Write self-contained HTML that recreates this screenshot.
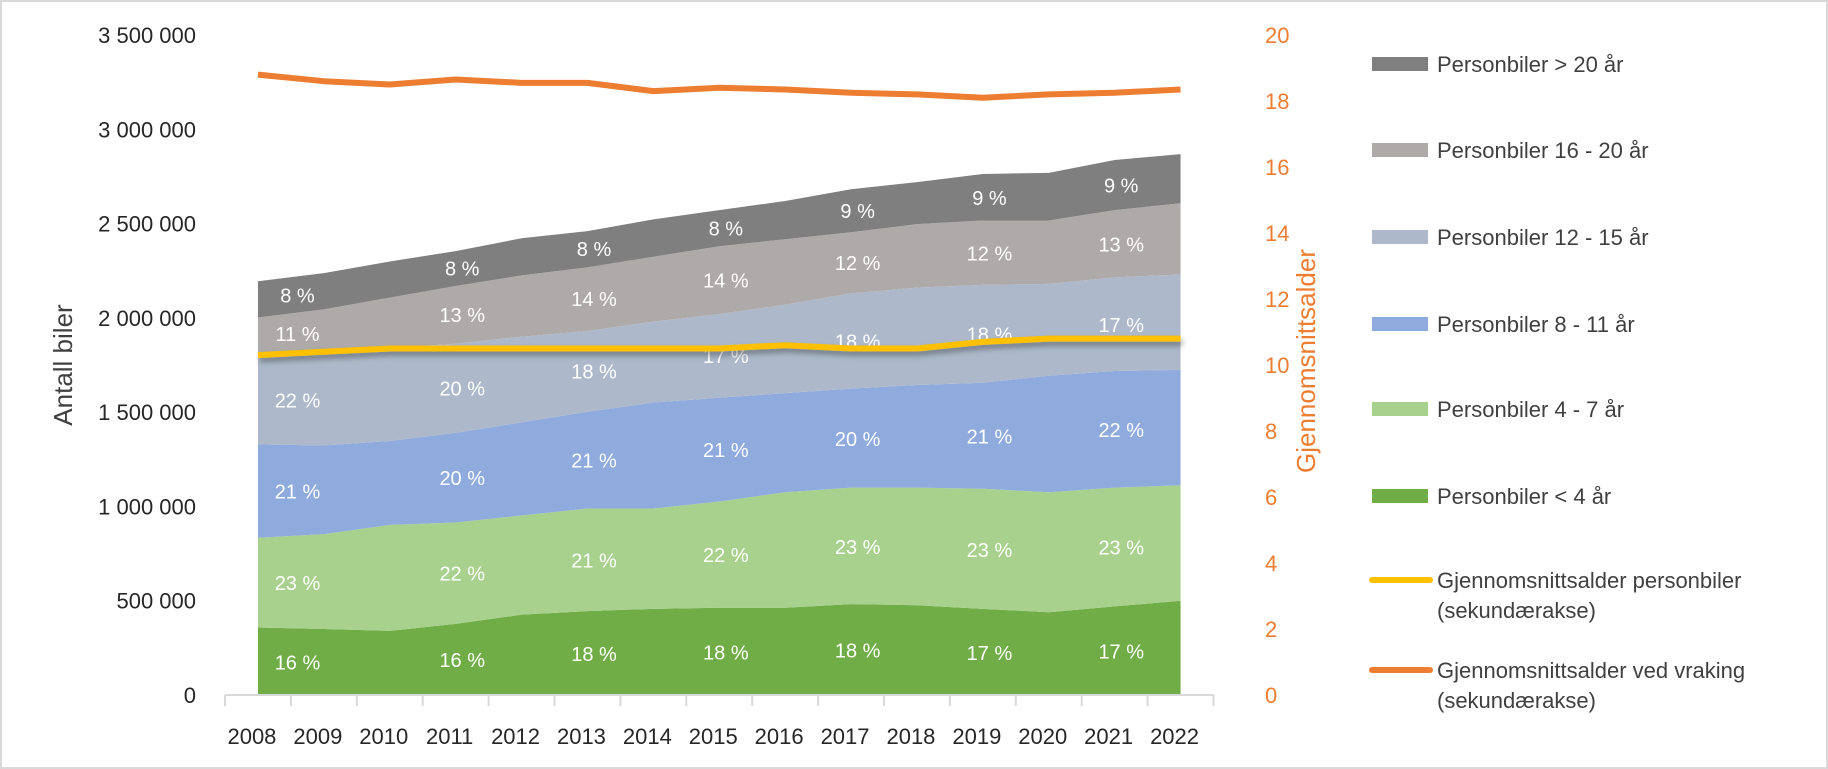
<!DOCTYPE html>
<html><head><meta charset="utf-8"><style>
html,body{margin:0;padding:0;background:#fff}
svg{display:block;font-family:"Liberation Sans",sans-serif}
</style></head><body>
<svg id="c" width="1828" height="769" viewBox="0 0 1828 769">
<defs><filter id="sh" x="-5%" y="-50%" width="110%" height="300%"><feDropShadow dx="2" dy="4" stdDeviation="3" flood-color="#000" flood-opacity="0.35"/></filter></defs>
<rect x="1" y="1" width="1826" height="767" fill="#fff" stroke="#d9d9d9" stroke-width="2"/>
<g id="areas"></g>
<g id="lbls"></g>
<g id="lines"></g>
<g id="axes"></g>
<g id="legend"></g>
</svg>
<script>
const years=[2008,2009,2010,2011,2012,2013,2014,2015,2016,2017,2018,2019,2020,2021,2022];
const under4=[358000,350000,340000,377000,426000,445000,457000,463000,463000,482000,476000,457000,439000,470000,500000];
const age4to7=[476000,503000,562000,538000,526000,544000,532000,563000,612000,618000,624000,637000,636000,630000,612000];
const age8to11=[495000,470000,445000,475000,494000,513000,562000,550000,526000,525000,544000,562000,618000,618000,612000];
const age12to15=[471000,492000,493000,473000,454000,428000,429000,444000,469000,505000,516000,519000,487000,497000,506000];
const age16to20=[202000,230000,267000,306000,325000,338000,344000,360000,347000,324000,337000,341000,336000,356000,378000];
const over20=[192000,192000,192000,185000,197000,192000,198000,191000,203000,228000,223000,247000,253000,266000,260000];
const avgAge=[10.3,10.4,10.5,10.5,10.5,10.5,10.5,10.5,10.6,10.5,10.5,10.7,10.8,10.8,10.8];
const scrapAge=[18.8,18.6,18.5,18.65,18.55,18.55,18.3,18.4,18.35,18.25,18.2,18.1,18.2,18.25,18.35];
const labelPos=[0.6,3.1,5.1,7.1,9.1,11.1,13.1];
const pctUnder4=[16,16,18,18,18,17,17];
const pct4to7=[23,22,21,22,23,23,23];
const pct8to11=[21,20,21,21,20,21,22];
const pct12to15=[22,20,18,17,18,18,17];
const pct16to20=[11,13,14,14,12,12,13];
const pctOver20=[8,8,8,8,9,9,9];
const leftTicks=[0,500000,1000000,1500000,2000000,2500000,3000000,3500000];
const rightTicks=[0,2,4,6,8,10,12,14,16,18,20];

const NS="http://www.w3.org/2000/svg";
const X0=225,STEP=65.9,Y0=695,YT=35;
const x=i=>X0+STEP/2+i*STEP;
const yL=v=>Y0-(v/3500000)*(Y0-YT);
const yR=v=>Y0-(v/20)*(Y0-YT);
function mk(t,a,p){const e=document.createElementNS(NS,t);for(const k in a)e.setAttribute(k,a[k]);p.appendChild(e);return e;}
const fmt=v=>String(v).replace(/\B(?=(\d{3})+(?!\d))/g,' ');

const layers=[
 {d:under4,c:'#70AD47',p:pctUnder4,n:'Personbiler < 4 år',k:'under-4'},
 {d:age4to7,c:'#A9D18E',p:pct4to7,n:'Personbiler 4 - 7 år',k:'4-to-7'},
 {d:age8to11,c:'#8FAADC',p:pct8to11,n:'Personbiler 8 - 11 år',k:'8-to-11'},
 {d:age12to15,c:'#ADB9CA',p:pct12to15,n:'Personbiler 12 - 15 år',k:'12-to-15'},
 {d:age16to20,c:'#AEAAAA',p:pct16to20,n:'Personbiler 16 - 20 år',k:'16-to-20'},
 {d:over20,c:'#7F7F7F',p:pctOver20,n:'Personbiler > 20 år',k:'over-20'}];
const areas=document.getElementById('areas'),lbls=document.getElementById('lbls');
let base=years.map(()=>0);
const interp=(arr,t)=>{const i=Math.min(Math.floor(t),arr.length-2),f=t-i;return arr[i]*(1-f)+arr[i+1]*f;};
layers.forEach(L=>{
 const top=base.map((b,i)=>b+L.d[i]);
 let pts=top.map((v,i)=>x(i)+','+yL(v));
 pts=pts.concat(base.map((v,i)=>x(i)+','+yL(v)).reverse());
 const pg=mk('polygon',{points:pts.join(' '),fill:L.c},areas);
 
 
 const b0=base.slice();
 labelPos.forEach((t,j)=>{
  const mid=(interp(b0,t)+interp(top,t))/2;
  const tx=mk('text',{x:X0+STEP/2+t*STEP,y:yL(mid)+8,'text-anchor':'middle','font-size':20,fill:'#fff'},lbls);
  tx.textContent=L.p[j]+' %';
  
  
 });
 base=top;
});
const lines=document.getElementById('lines');
const ly=mk('polyline',{points:avgAge.map((v,i)=>x(i)+','+yR(v)).join(' '),fill:'none',stroke:'#FFC000','stroke-width':6,'stroke-linejoin':'round',filter:'url(#sh)'},lines);


const lo=mk('polyline',{points:scrapAge.map((v,i)=>x(i)+','+yR(v)).join(' '),fill:'none',stroke:'#ED7D31','stroke-width':6,'stroke-linejoin':'round'},lines);



const ax=document.getElementById('axes');
mk('line',{x1:X0,y1:Y0,x2:X0+STEP*15,y2:Y0,stroke:'#d9d9d9','stroke-width':2},ax);
for(let k=0;k<=15;k++)mk('line',{x1:X0+k*STEP,y1:Y0,x2:X0+k*STEP,y2:Y0+11,stroke:'#d9d9d9','stroke-width':2},ax);
years.forEach((yv,i)=>{const t=mk('text',{x:x(i)-6,y:744,'text-anchor':'middle','font-size':22,fill:'#262626'},ax);t.textContent=yv;
 });
leftTicks.forEach(v=>{const t=mk('text',{x:196,y:yL(v)+8,'text-anchor':'end','font-size':22,fill:'#262626'},ax);t.textContent=fmt(v);
 });
rightTicks.forEach(v=>{const t=mk('text',{x:1265,y:yR(v)+8,'font-size':22,fill:'#ED7D31'},ax);t.textContent=v;
 });
const yt=mk('text',{x:0,y:0,transform:'translate(72,365) rotate(-90)','text-anchor':'middle','font-size':26,fill:'#404040'},ax);yt.textContent='Antall biler';

const yt2=mk('text',{x:0,y:0,transform:'translate(1315,361) rotate(-90)','text-anchor':'middle','font-size':26,fill:'#ED7D31'},ax);yt2.textContent='Gjennomsnittsalder';


const lg=document.getElementById('legend');
const lyPos=[64,150,237,324,409,496];
layers.slice().reverse().forEach((L,i)=>{
 const g=mk('g',{},lg);
 
 
 mk('rect',{x:1372,y:lyPos[i]-7,width:56,height:14,fill:L.c},g);
 const t=mk('text',{x:1437,y:lyPos[i]+8,'font-size':22,fill:'#404040'},g);t.textContent=L.n;
});
[[580,'#FFC000','Gjennomsnittsalder personbiler','avg-age'],[670,'#ED7D31','Gjennomsnittsalder ved vraking','scrap-age']].forEach(e=>{
 const g=mk('g',{},lg);
 
 
 mk('line',{x1:1372,y1:e[0],x2:1430,y2:e[0],stroke:e[1],'stroke-width':6,'stroke-linecap':'round'},g);
 const t=mk('text',{x:1437,y:e[0]+8,'font-size':22,fill:'#404040'},g);t.textContent=e[2];
 const t2=mk('text',{x:1437,y:e[0]+38,'font-size':22,fill:'#404040'},g);t2.textContent='(sekundærakse)';
});
</script>
</body></html>
